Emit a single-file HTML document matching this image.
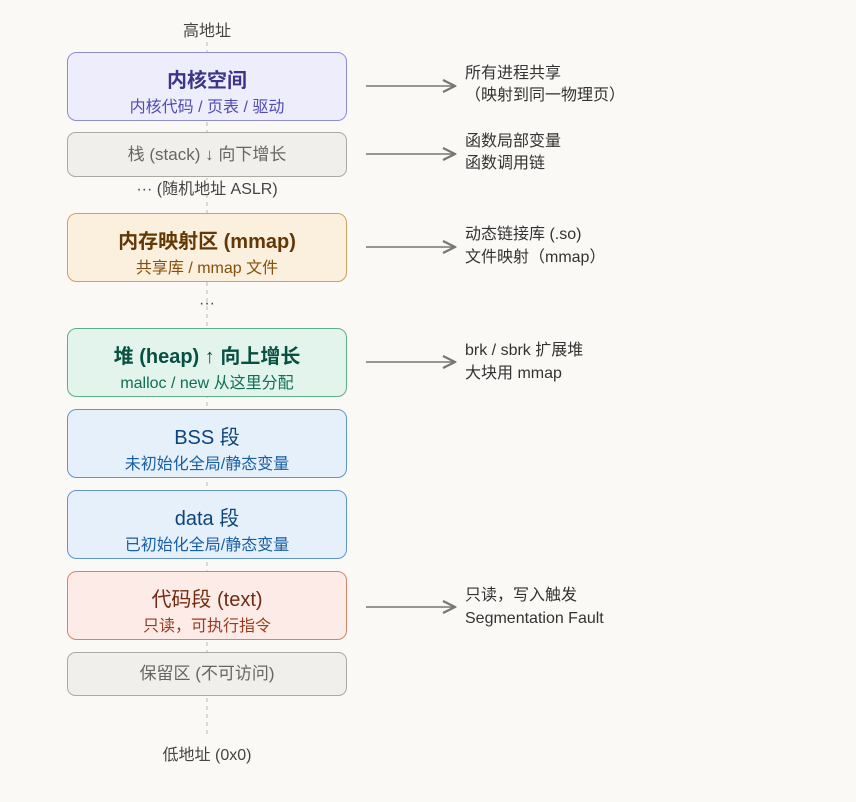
<!DOCTYPE html>
<html><head><meta charset="utf-8"><style>
body{margin:0;background:#faf9f6;}
svg text{font-family:"Liberation Sans","Noto Sans CJK SC",sans-serif;}
</style></head><body>
<svg width="856" height="797" xmlns="http://www.w3.org/2000/svg">
<defs><marker id="a" markerWidth="10" markerHeight="10" refX="9" refY="5" orient="auto"><path d="M1,1 L9,5 L1,9" fill="none" stroke="#777" stroke-width="1.5"/></marker></defs>
<line x1="207" y1="42" x2="207" y2="738" stroke="#bbb" stroke-dasharray="4,4"/>
<text x="207" y="36" text-anchor="middle" font-size="16" fill="#444">高地址</text>
<text x="207" y="760" text-anchor="middle" font-size="16" fill="#444">低地址 (0x0)</text>
<rect x="67.5" y="52.5" width="279" height="68" rx="9" fill="#eeedfc" stroke="#8f8ad6"/>
<text x="207" y="87" text-anchor="middle" font-size="20" font-weight="bold" fill="#3c3489">内核空间</text>
<text x="207" y="112" text-anchor="middle" font-size="16" fill="#534ab7">内核代码 / 页表 / 驱动</text>
<rect x="67.5" y="132.5" width="279" height="44" rx="8" fill="#f0efeb" stroke="#aaa9a2"/>
<text x="207" y="160" text-anchor="middle" font-size="17" fill="#666">栈 (stack) ↓ 向下增长</text>
<rect x="200" y="180" width="14" height="14" fill="#faf9f6"/>
<text x="207" y="194" text-anchor="middle" font-size="16" fill="#444">··· (随机地址 ASLR)</text>
<rect x="67.5" y="213.5" width="279" height="68" rx="9" fill="#fbefdd" stroke="#d1a160"/>
<text x="207" y="248" text-anchor="middle" font-size="20" font-weight="bold" fill="#633806">内存映射区 (mmap)</text>
<text x="207" y="273" text-anchor="middle" font-size="16" fill="#854f0b">共享库 / mmap 文件</text>
<text x="207" y="308" text-anchor="middle" font-size="16" fill="#444">···</text>
<rect x="67.5" y="328.5" width="279" height="68" rx="9" fill="#e2f4ec" stroke="#5dae8b"/>
<text x="207" y="363" text-anchor="middle" font-size="20" font-weight="bold" fill="#085041">堆 (heap) ↑ 向上增长</text>
<text x="207" y="388" text-anchor="middle" font-size="16" fill="#0f6e56">malloc / new 从这里分配</text>
<rect x="67.5" y="409.5" width="279" height="68" rx="9" fill="#e6f0fb" stroke="#5f95cf"/>
<text x="207" y="444" text-anchor="middle" font-size="20" fill="#0c447c">BSS 段</text>
<text x="207" y="469" text-anchor="middle" font-size="16" fill="#185fa5">未初始化全局/静态变量</text>
<rect x="67.5" y="490.5" width="279" height="68" rx="9" fill="#e6f0fb" stroke="#5f95cf"/>
<text x="207" y="525" text-anchor="middle" font-size="20" fill="#0c447c">data 段</text>
<text x="207" y="550" text-anchor="middle" font-size="16" fill="#185fa5">已初始化全局/静态变量</text>
<rect x="67.5" y="571.5" width="279" height="68" rx="9" fill="#fcebe6" stroke="#d6836a"/>
<text x="207" y="606" text-anchor="middle" font-size="20" fill="#712b13">代码段 (text)</text>
<text x="207" y="631" text-anchor="middle" font-size="16" fill="#993c1d">只读，可执行指令</text>
<rect x="67.5" y="652.5" width="279" height="43" rx="8" fill="#f0efeb" stroke="#aaa9a2"/>
<text x="207" y="679" text-anchor="middle" font-size="17" fill="#666">保留区 (不可访问)</text>
<g stroke="#777" stroke-width="1.5" marker-end="url(#a)">
<line x1="366" y1="86" x2="455" y2="86"/>
<line x1="366" y1="154" x2="455" y2="154"/>
<line x1="366" y1="247" x2="455" y2="247"/>
<line x1="366" y1="362" x2="455" y2="362"/>
<line x1="366" y1="607" x2="455" y2="607"/>
</g>
<g font-size="16" fill="#333">
<text x="465" y="78">所有进程共享</text><text x="465" y="100">（映射到同一物理页）</text>
<text x="465" y="146">函数局部变量</text><text x="465" y="168">函数调用链</text>
<text x="465" y="239">动态链接库 (.so)</text><text x="465" y="262">文件映射（mmap）</text>
<text x="465" y="355">brk / sbrk 扩展堆</text><text x="465" y="378">大块用 mmap</text>
<text x="465" y="600">只读，写入触发</text><text x="465" y="623">Segmentation Fault</text>
</g>
</svg>
</body></html>
